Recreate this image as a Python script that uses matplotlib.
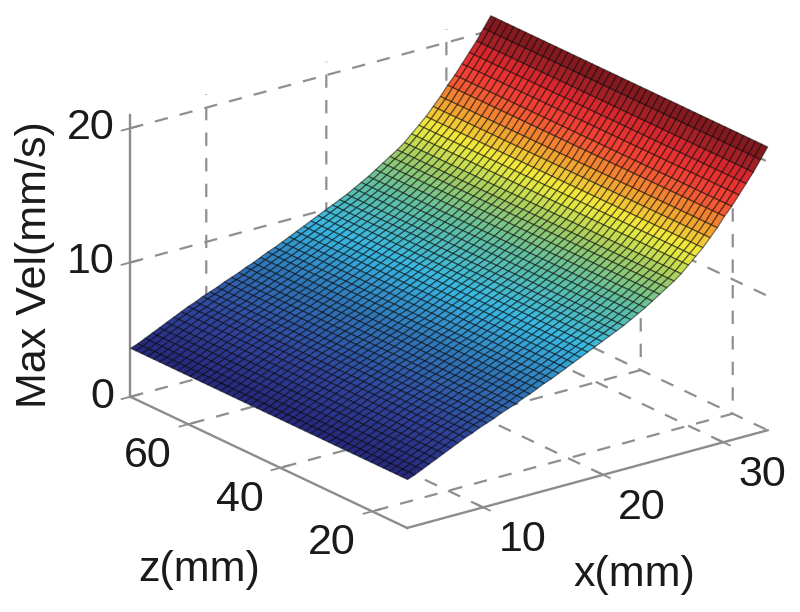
import numpy as np
import matplotlib
matplotlib.use('Agg')
import matplotlib.pyplot as plt
from matplotlib.colors import LinearSegmentedColormap
from mpl_toolkits.mplot3d import proj3d

plt.rcParams['font.family'] = ['Liberation Sans', 'DejaVu Sans']

# values, height only changes along x
xValues = [3.7, 4.3, 4.9, 5.5, 6.1, 6.7, 7.3, 7.9, 8.5, 9.1, 9.7, 10.3, 10.9, 11.5, 12.1, 12.7, 13.3,
           13.9, 14.5, 15.1, 15.7, 16.3, 16.9, 17.5, 18.1, 18.7, 19.3, 19.9, 20.5, 21.1, 21.7, 22.3,
           22.9, 23.5, 24.1, 24.7, 25.3, 25.9, 26.5, 27.1, 27.7, 28.3, 28.9, 29.5, 30.1, 30.7, 31.3,
           31.9, 32.5, 33.1, 33.7]
maxVel = [3.6, 3.8, 4.05, 4.3, 4.55, 4.8, 5.05, 5.3, 5.55, 5.75, 6.0, 6.2, 6.4, 6.65, 6.85, 7.05, 7.3,
          7.5, 7.75, 8.0, 8.2, 8.45, 8.7, 8.95, 9.2, 9.45, 9.7, 9.95, 10.2, 10.45, 10.7, 11.0,
          11.3, 11.6, 11.95, 12.3, 12.65, 13.0, 13.4, 13.9, 14.4, 14.9, 15.5, 16.1, 16.8, 17.4, 18.1,
          18.8, 19.5, 20.3, 21.1]
zValues = [12.4, 13.7, 15.0, 16.3, 17.6, 19.0, 20.3, 21.6, 22.9, 24.2, 25.5, 26.8, 28.2, 29.5, 30.8, 32.1,
           33.4, 34.7, 36.0, 37.4, 38.7, 40.0, 41.3, 42.6, 43.9, 45.2, 46.6, 47.9, 49.2, 50.5, 51.8,
           53.1, 54.4, 55.8, 57.1, 58.4, 59.7, 61.0, 62.3, 63.6, 65.0, 66.3, 67.6, 68.9, 70.2, 71.5, 72.6]
xTicks = [10, 20, 30]
zTicks = [20, 40, 60]
velTicks = [0, 10, 20]

# washed out jet of the scan: height stop, colour
colourStops = [3.6, 5.5, 7.5, 9.5, 11.5, 13.0, 14.5, 16.0, 17.5, 19.0, 20.0, 21.1]
colourList = ['#26287c', '#30439c', '#3074b8', '#38b8e2', '#64c09e', '#a2cc62', '#f2ee3c',
              '#f29a30', '#f24434', '#e02a30', '#a01f26', '#78181e']

X, Z = np.meshgrid(xValues, zValues)
V = np.tile(maxVel, (len(zValues), 1))

vmin, vmax = colourStops[0], colourStops[-1]
stopFractions = [(s - vmin) / (vmax - vmin) for s in colourStops]
scanJet = LinearSegmentedColormap.from_list('scanJet', list(zip(stopFractions, colourList)))

fig = plt.figure(figsize=(8.0, 6.12), dpi=100)
# square axes, box centre lands on the centre of the reference box
W = 690.7
ax = fig.add_axes([94.3 / 800, -15.2 / 612, W / 800, W / 612], projection='3d', proj_type='ortho')
ax.view_init(elev=21, azim=-127.1)
ax.set_box_aspect((452, 459, 302))
ax.patch.set_alpha(0)

ax.plot_surface(X, Z, V, cmap=scanJet, vmin=vmin, vmax=vmax, rstride=1, cstride=1, shade=False,
                edgecolor=(0, 0, 0, 0.5), linewidth=0.9, antialiased=True)

xLim = (3.67, 33.7)
zLim = (12.4, 72.6)
ax.set_xlim(*xLim, view_margin=0)
ax.set_ylim(*zLim, view_margin=0)
ax.set_zlim(0, 21, view_margin=0)
ax.set_xticks(xTicks)
ax.set_yticks(zTicks)
ax.set_zticks(velTicks)
ax.set_xticklabels([])
ax.set_yticklabels([])
ax.set_zticklabels([])

for axis in (ax.xaxis, ax.yaxis, ax.zaxis):
    axis.set_pane_color((1, 1, 1, 0))
    axis.pane.set_edgecolor((1, 1, 1, 0))
    axis.line.set_color('#8c8c8c')
    axis.line.set_linewidth(1.7)
    axis._axinfo['grid'].update(color='#8f8f8f', linewidth=1.6, linestyle=(0, (6, 5.5)))
    axis._axinfo['tick']['inward_factor'] = 0.3
    axis._axinfo['tick']['outward_factor'] = 0.3
    axis._axinfo['tick']['linewidth'] = {True: 1.3, False: 1.3}
ax.tick_params(axis='both', color='#8c8c8c')
ax.tick_params(axis='z', color='#8c8c8c')

# mplot3d only has the one pad, so tick labels are placed from the projected tick point
def tickLabel(x, y, z, text, dx, dy, ha='center'):
    px, py, _ = proj3d.proj_transform(x, y, z, ax.get_proj())
    ax.annotate(text, xy=(px, py), xycoords='data', xytext=(dx, dy), textcoords='offset pixels',
                fontsize=31, color='#1a1a1a', ha=ha, va='center', annotation_clip=False)

for t in xTicks:
    tickLabel(t, zLim[0], 0, str(t), 39, -33)
for t in zTicks:
    tickLabel(xLim[0], t, 0, str(t), -40, -32)
for t in velTicks:
    tickLabel(xLim[0], zLim[1], t, str(t), -16, 0, ha='right')

fig.text(634 / 800, 1 - 575 / 612, 'x(mm)', fontsize=31, color='#1a1a1a', ha='center', va='center')
fig.text(199 / 800, 1 - 570 / 612, 'z(mm)', fontsize=31, color='#1a1a1a', ha='center', va='center')
fig.text(35 / 800, 1 - 265 / 612, 'Max Vel(mm/s)', fontsize=31, color='#1a1a1a', rotation=90,
         ha='center', va='center')

fig.savefig('out.png', dpi=100)
